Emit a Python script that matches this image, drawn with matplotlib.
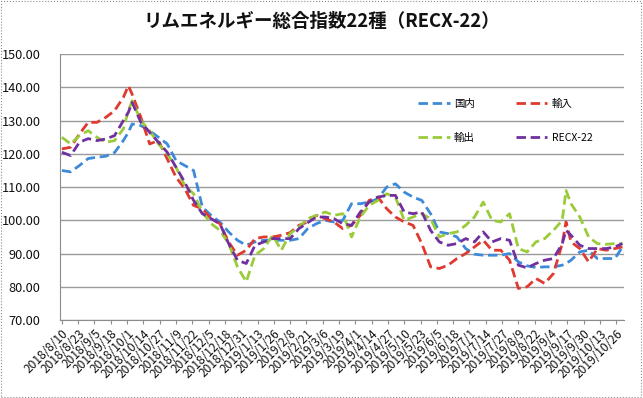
import matplotlib
matplotlib.use("Agg")
import matplotlib.pyplot as plt
from matplotlib.patches import Rectangle
import pandas as pd

plt.rcParams['font.family'] = ['Noto Sans CJK JP', 'DejaVu Sans']

# weekly readings (plus two peak days)
dates = [
    "2018-08-10", "2018-08-17", "2018-08-24", "2018-08-31", "2018-09-07", "2018-09-14",
    "2018-09-21", "2018-09-28", "2018-10-02", "2018-10-05", "2018-10-12", "2018-10-19",
    "2018-10-26", "2018-11-02", "2018-11-09", "2018-11-16", "2018-11-23", "2018-11-30",
    "2018-12-07", "2018-12-14", "2018-12-21", "2018-12-28", "2019-01-04", "2019-01-11",
    "2019-01-18", "2019-01-25", "2019-02-01", "2019-02-08", "2019-02-15", "2019-02-22",
    "2019-03-01", "2019-03-08", "2019-03-15", "2019-03-22", "2019-03-29", "2019-04-05",
    "2019-04-12", "2019-04-19", "2019-04-26", "2019-05-03", "2019-05-10", "2019-05-17",
    "2019-05-24", "2019-05-31", "2019-06-07", "2019-06-14", "2019-06-21", "2019-06-28",
    "2019-07-05", "2019-07-12", "2019-07-19", "2019-07-26", "2019-08-02", "2019-08-09",
    "2019-08-16", "2019-08-23", "2019-08-30", "2019-09-06", "2019-09-13", "2019-09-16",
    "2019-09-20", "2019-09-27", "2019-10-04", "2019-10-11", "2019-10-18", "2019-10-25",
    "2019-10-31",
]

domestic = [
    115, 114.6, 116.5, 118.6, 119, 119.3, 120.4, 124, 126.5, 129, 128.5, 127,
    125, 123, 118, 116.5, 115, 104, 101.5, 99.5, 96.5, 94, 92.5, 93.5,
    94, 94, 94, 94, 94.5, 97.5, 99, 100, 99.5, 100, 105, 105,
    105.5, 106.5, 110, 111, 108.5, 107, 106, 102, 96.5, 96, 95, 91.5,
    89.8, 89.5, 89.5, 89.5, 90, 87.5, 86.3, 85.8, 86, 86, 86.5, 87,
    88, 90.5, 91, 88.5, 88.5, 88.5, 92,
]
imports = [
    121.5, 122, 126, 129.5, 129.5, 131, 133, 137, 140.5, 138, 131, 123,
    124, 118.5, 113, 109.5, 104.5, 103.5, 100.5, 99, 93.5, 89.5, 91, 94.5,
    95, 95, 95.5, 96.3, 98.5, 99.5, 101.5, 100.5, 99.5, 97.5, 98.5, 101.5,
    106, 107, 103.5, 101, 99.5, 98.5, 93, 86, 85.5, 86.5, 88.5, 90,
    92, 94, 91, 91, 88, 79.5, 80, 82.5, 81, 84, 93, 99.5,
    93.5, 91.5, 87.5, 91.5, 91, 91.5, 92,
]
exports = [
    125, 123, 125.5, 127, 125, 123.5, 124, 127.5, 133, 136, 130, 127,
    123, 120, 116, 110.5, 108, 102.5, 99, 97, 93, 86, 81.5, 89.5,
    91.5, 95.5, 91, 96, 98, 100.5, 101.5, 102.5, 101.5, 102, 95, 101,
    104.5, 106, 108, 107, 100, 101, 102, 100.5, 95, 96, 96.5, 98.5,
    101, 105.5, 100, 99.5, 102, 91.5, 90.5, 93.5, 94.5, 97, 100, 109,
    105, 101, 95, 93, 92.8, 93, 93,
]
recx = [
    120.5, 119.5, 123.5, 124.6, 124, 124.5, 125.5, 130, 132.5, 135.5, 129.5, 126.5,
    123.5, 120.5, 116, 111.5, 106, 102, 100.5, 99, 93, 88, 87, 92.5,
    93.5, 94.5, 94.5, 94.5, 97.5, 99.3, 101, 101, 100.5, 99, 98.5, 102.5,
    105.5, 107, 107.5, 107.5, 102.5, 102, 102.5, 97, 93.5, 92.5, 93, 94.5,
    93.5, 96.5, 93.5, 94.5, 94, 86.5, 85.7, 87, 88, 88.5, 93, 97,
    95.5, 92.5, 91.5, 91.5, 91.5, 92, 93,
]

series_names = ["国内", "輸入", "輸出", "RECX-22"]
series_colors = ["#3d8ad8", "#e0392f", "#9acb38", "#7030a0"]

# category ticks every 13 days
tick_dates = pd.date_range("2018-08-10", "2019-10-26", freq="13D")
tick_labels = [f"{d.year}/{d.month}/{d.day}" for d in tick_dates]

x = pd.to_datetime(dates)

fig = plt.figure(figsize=(6.43, 3.98), dpi=100)
ax = fig.add_axes([0.0933, 0.196, 0.8767, 0.6677])

lines = []
for vals, name, col in zip([domestic, imports, exports, recx], series_names, series_colors):
    ln, = ax.plot(x, vals, color=col, lw=2.0, dashes=(3.4, 1.7), label=name)
    lines.append(ln)

ax.set_ylim(70, 150)
ax.set_yticks(range(70, 151, 10))
ax.set_yticklabels([f"{v:.2f}" for v in range(70, 151, 10)])
ax.set_xlim(pd.Timestamp("2018-08-08 12:00"), pd.Timestamp("2019-11-01"))
ax.set_xticks(tick_dates)
ax.set_xticklabels(tick_labels, rotation=45, ha="right", rotation_mode="anchor")

ax.yaxis.grid(True, color="#9a9a9a", lw=1.0)
ax.set_axisbelow(True)
for s in ["top", "right"]:
    ax.spines[s].set_visible(False)
for s in ["left", "bottom"]:
    ax.spines[s].set_color("#8c8c8c")
ax.tick_params(axis="y", length=0, pad=14, labelsize=9.2, colors="#111111")
ax.tick_params(axis="x", length=3, color="#8c8c8c", pad=2, labelsize=8.6, colors="#111111")

ax.legend([lines[0], lines[2], lines[1], lines[3]],
          [series_names[0], series_names[2], series_names[1], series_names[3]],
          ncol=2, loc="center", bbox_to_anchor=(0.79, 0.75), frameon=False,
          fontsize=7.5, handlelength=3.0, labelspacing=2.3, columnspacing=4.0,
          handletextpad=0.4)

fig.text(0.5, 0.945, "リムエネルギー総合指数22種（RECX-22）", ha="center", va="center",
         fontsize=13.3, fontweight="bold", color="#111111")

fig.patches.append(Rectangle((0.002, 0.003), 0.995, 0.994, transform=fig.transFigure,
                             fill=False, ec="#8c8c8c", lw=0.8, ls=":"))

fig.savefig("out.png", dpi=100)
